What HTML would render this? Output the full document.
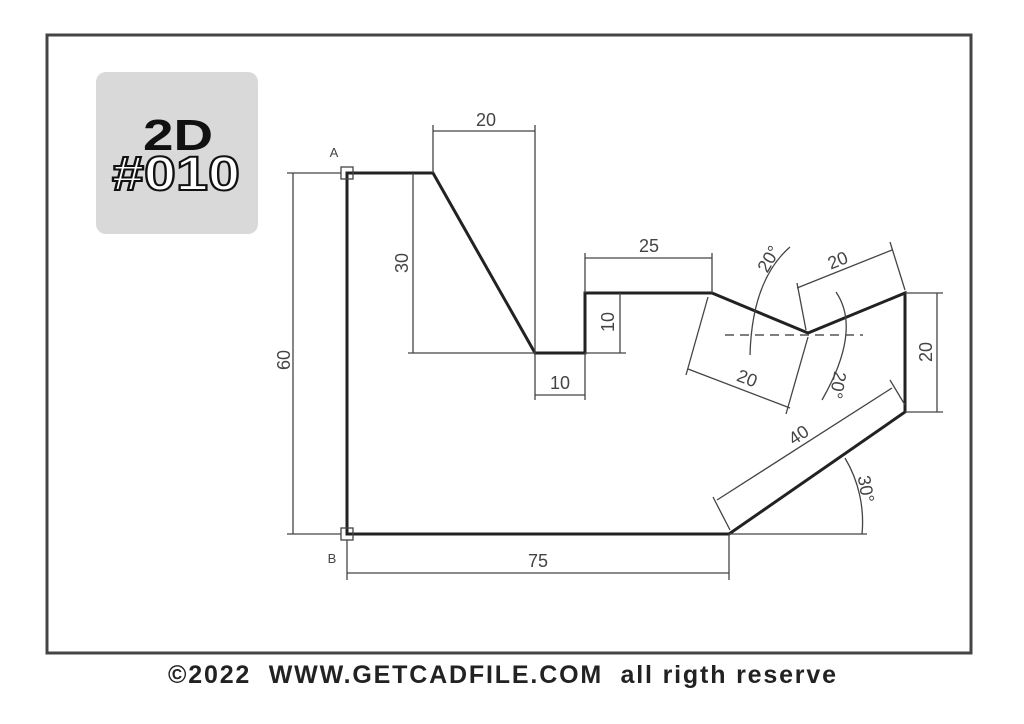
<!DOCTYPE html>
<html><head><meta charset="utf-8"><style>
html,body{margin:0;padding:0;background:#fff;width:1024px;height:724px;overflow:hidden}
svg{display:block}
</style></head><body>
<svg width="1024" height="724" viewBox="0 0 1024 724" xmlns="http://www.w3.org/2000/svg" font-family="Liberation Sans, sans-serif">
<rect x="47" y="35" width="924" height="618" fill="#fff" stroke="#444" stroke-width="3"/>
<rect x="96" y="72" width="162" height="162" rx="10" fill="#d9d9d9"/>
<text x="178" y="150" text-anchor="middle" font-size="44" font-weight="bold" fill="#111" textLength="70" lengthAdjust="spacingAndGlyphs">2D</text>
<text x="112" y="190" font-size="48" font-weight="bold" fill="#fff" stroke="#111" stroke-width="2" textLength="128" lengthAdjust="spacingAndGlyphs">#010</text>
<path d="M347 173 L433 173 L535 353 L585 353 L585 293 L712 293 L808 333 L905 293 L905 412 L729 534 L347 534 Z" fill="none" stroke="#222" stroke-width="3" stroke-linejoin="miter"/>
<g stroke="#444" stroke-width="1.3" fill="none">
<rect x="341" y="167" width="12" height="12"/>
<rect x="341" y="528" width="12" height="12"/>
<line x1="287" y1="173" x2="341" y2="173"/><line x1="287" y1="534" x2="341" y2="534"/>
<line x1="293" y1="173" x2="293" y2="534"/>
<line x1="413" y1="173" x2="413" y2="353"/><line x1="408" y1="353" x2="535" y2="353"/>
<line x1="433" y1="125" x2="433" y2="173"/><line x1="535" y1="125" x2="535" y2="353"/>
<line x1="433" y1="131" x2="535" y2="131"/>
<line x1="535" y1="353" x2="535" y2="400"/><line x1="585" y1="353" x2="585" y2="400"/>
<line x1="535" y1="395" x2="585" y2="395"/>
<line x1="585" y1="353" x2="626" y2="353"/><line x1="620" y1="293" x2="620" y2="353"/>
<line x1="585" y1="253" x2="585" y2="293"/><line x1="712" y1="253" x2="712" y2="293"/>
<line x1="585" y1="258" x2="712" y2="258"/>
<line x1="905" y1="293" x2="943" y2="293"/><line x1="905" y1="412" x2="943" y2="412"/>
<line x1="937" y1="293" x2="937" y2="412"/>
<line x1="347" y1="540" x2="347" y2="580"/><line x1="729" y1="534" x2="729" y2="580"/>
<line x1="347" y1="573" x2="729" y2="573"/>
<line x1="729" y1="534" x2="867" y2="534"/>
<path d="M845 458 A125 125 0 0 1 862 534"/>
<line x1="713" y1="497" x2="730" y2="530"/><line x1="890" y1="380" x2="905" y2="405"/>
<line x1="717" y1="500" x2="892" y2="388"/>
<line x1="708" y1="297" x2="686" y2="375"/><line x1="808" y1="337" x2="786" y2="414"/>
<line x1="688" y1="369" x2="790" y2="408"/>
<line x1="797" y1="283" x2="806" y2="330"/><line x1="890" y1="242" x2="905" y2="290"/>
<line x1="797" y1="288" x2="892" y2="250"/>
<path d="M790 247 Q752 280 750 355"/>
<path d="M836 292 Q862 330 822 400"/>
</g>
<line x1="725" y1="335" x2="863" y2="335" stroke="#555" stroke-width="1.5" stroke-dasharray="9,6"/>
<g fill="#444" font-size="18">
<text x="334" y="157" font-size="13" text-anchor="middle">A</text>
<text x="332" y="563" font-size="13" text-anchor="middle">B</text>
<text x="486" y="126" text-anchor="middle">20</text>
<text x="560" y="389" text-anchor="middle">10</text>
<text x="649" y="252" text-anchor="middle">25</text>
<text x="538" y="567" text-anchor="middle">75</text>
<text transform="translate(290,360) rotate(-90)" text-anchor="middle">60</text>
<text transform="translate(408,263) rotate(-90)" text-anchor="middle">30</text>
<text transform="translate(614,322) rotate(-90)" text-anchor="middle">10</text>
<text transform="translate(932,352) rotate(-90)" text-anchor="middle">20</text>
<text transform="translate(802,440) rotate(-34)" text-anchor="middle">40</text>
<text transform="translate(745,384) rotate(21)" text-anchor="middle">20</text>
<text transform="translate(840,266) rotate(-22)" text-anchor="middle">20</text>
<text transform="translate(774,262) rotate(-60)" text-anchor="middle">20°</text>
<text transform="translate(832,384) rotate(100)" text-anchor="middle">20°</text>
<text transform="translate(860,490) rotate(80)" text-anchor="middle">30°</text>
</g>
<text x="168" y="683" xml:space="preserve" font-size="25" font-weight="bold" fill="#222" textLength="668" lengthAdjust="spacing">©2022  WWW.GETCADFILE.COM  all rigth reserve</text>
</svg>
</body></html>
